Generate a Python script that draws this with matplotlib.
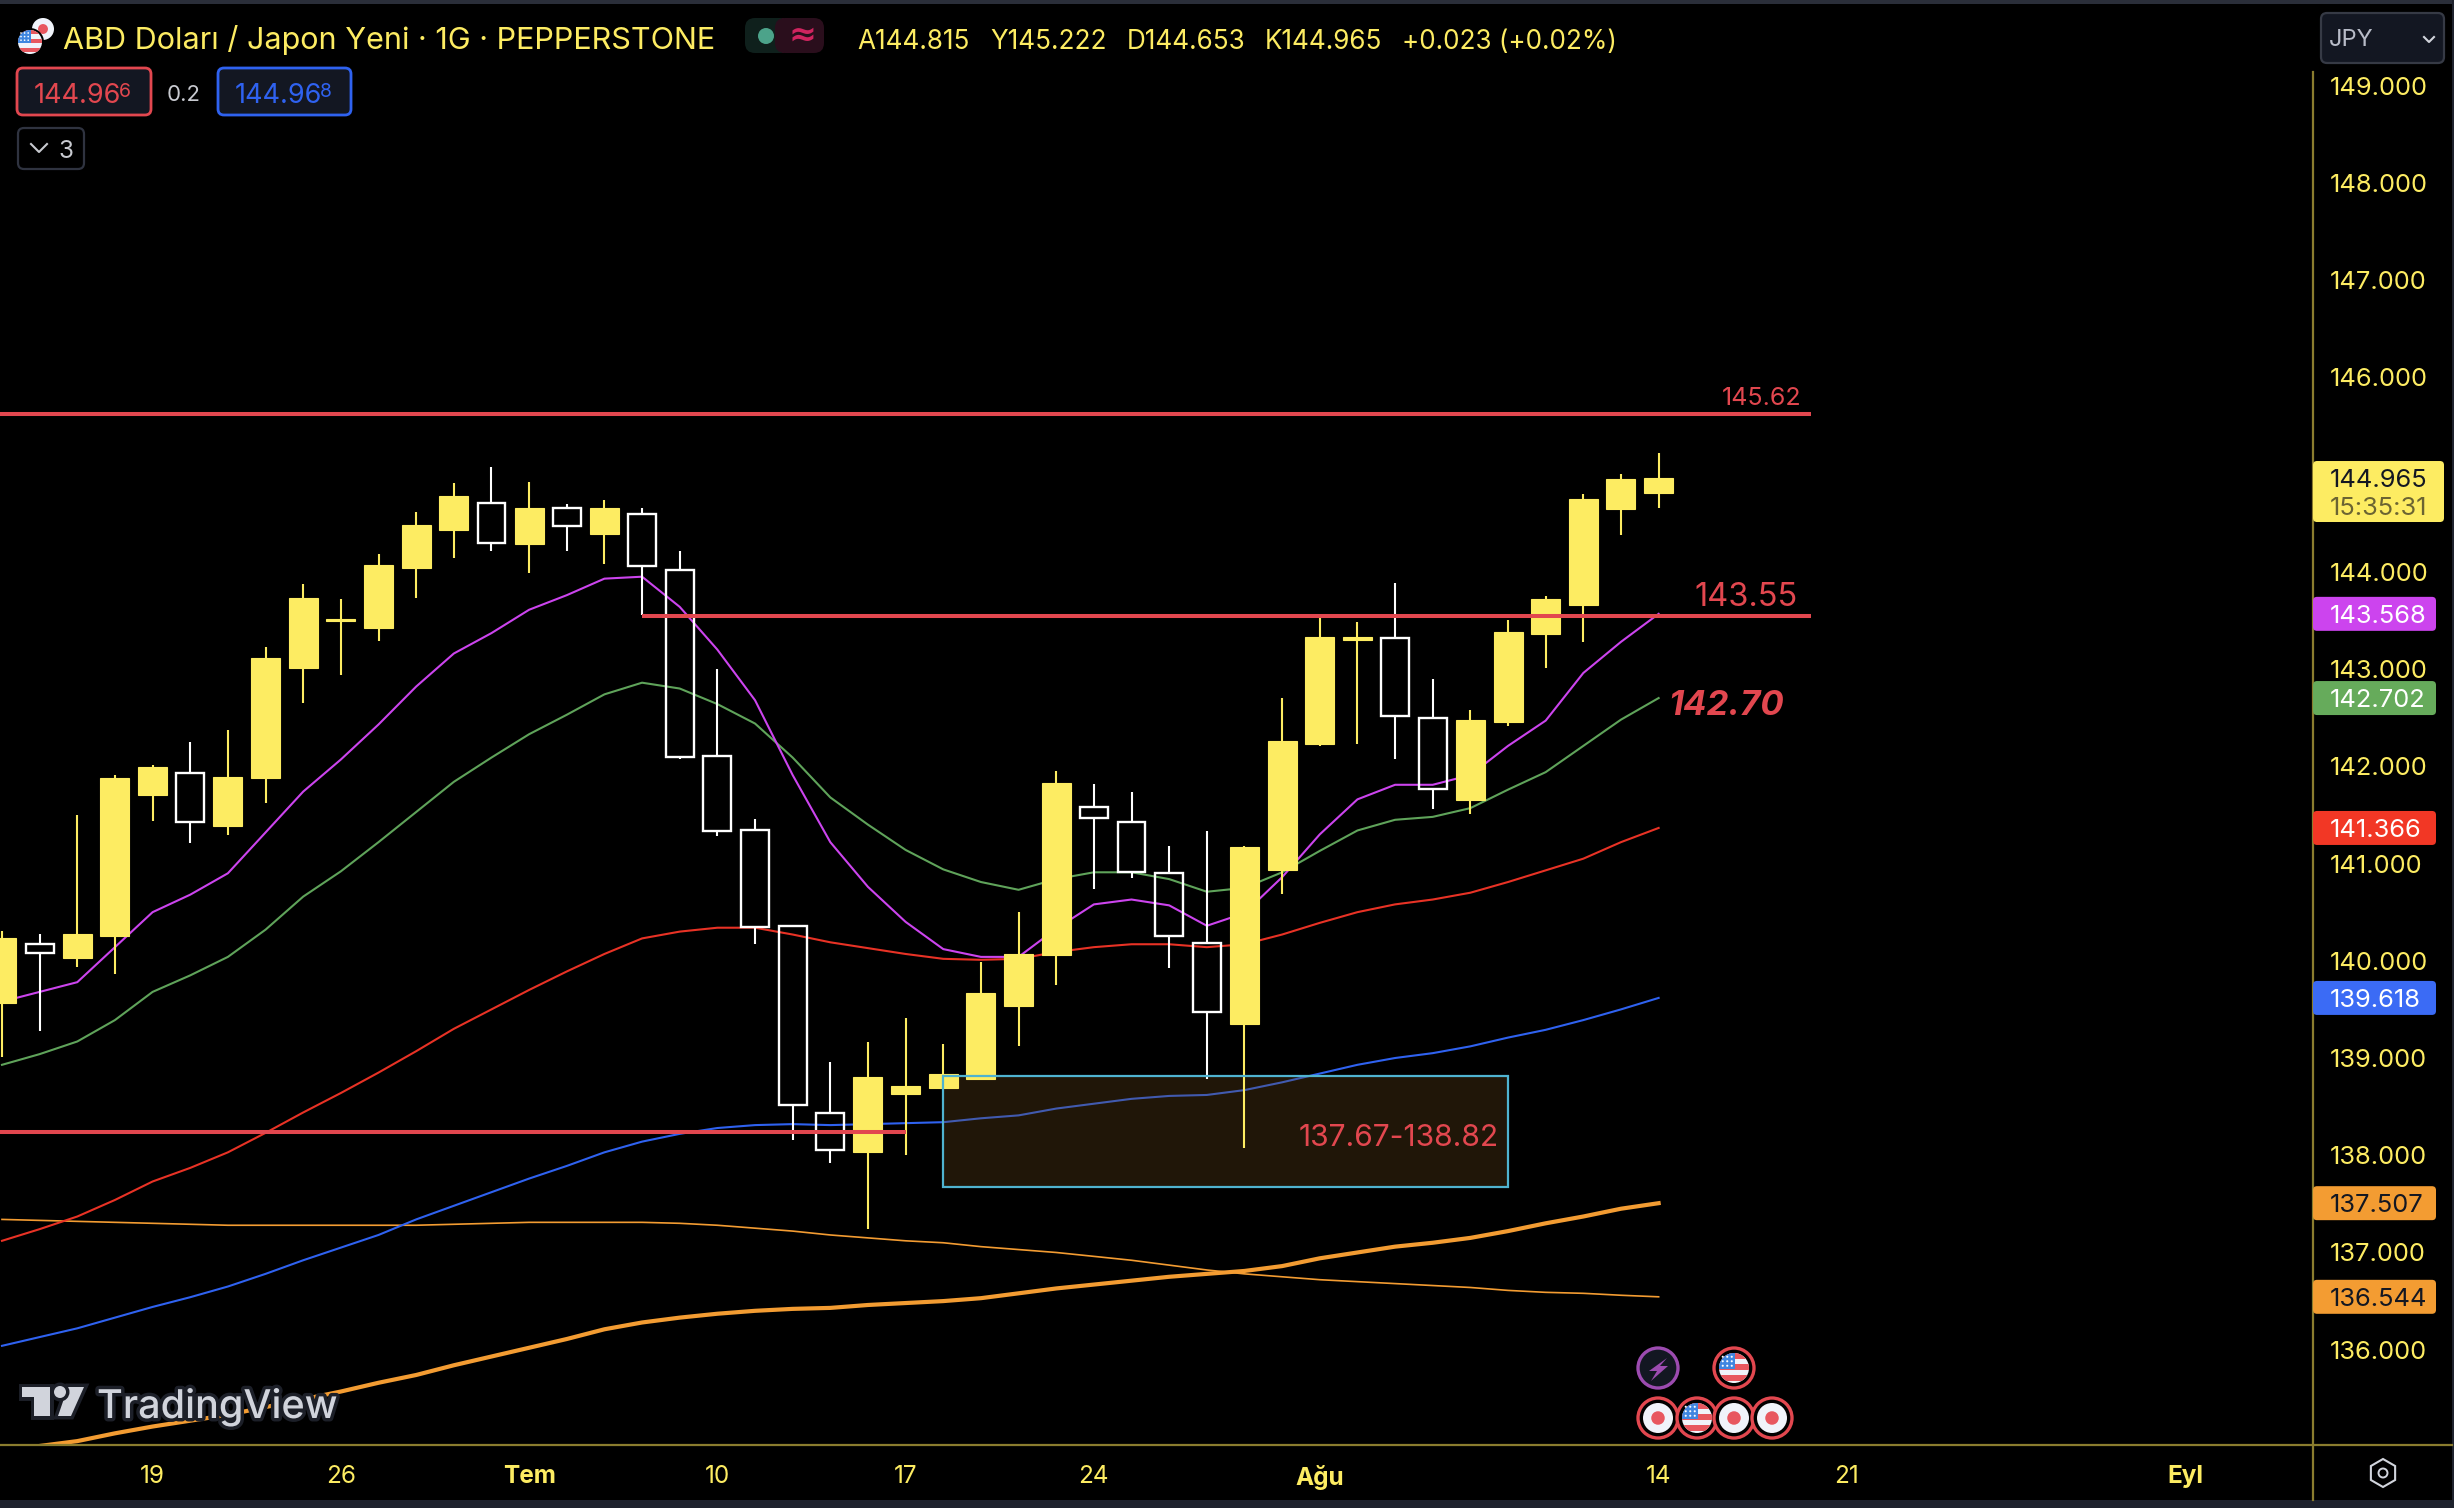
import matplotlib
matplotlib.use("Agg")
import matplotlib.pyplot as plt
import matplotlib.patheffects as pe
from matplotlib.patches import Circle, FancyBboxPatch, Polygon, Rectangle, RegularPolygon

plt.rcParams["font.family"] = ["Inter", "DejaVu Sans"]

# Daily candles, index 0 is the first bar on the left
opens = [139.57, 140.17, 140.03, 140.25, 141.70, 141.93, 141.39, 141.88, 143.01, 143.49,
         143.42, 144.04, 144.43, 144.71, 144.29, 144.66, 144.39, 144.60, 144.02, 142.11,
         141.34, 140.36, 138.43, 138.03, 138.63, 138.69, 138.78, 139.53, 140.06, 141.58,
         141.43, 140.90, 140.18, 139.35, 140.93, 142.23, 143.30, 143.32, 142.50, 141.65,
         142.46, 143.36, 143.66, 144.65, 144.815]
highs = [140.31, 140.28, 141.50, 141.91, 142.01, 142.25, 142.37, 143.23, 143.88, 143.72,
         144.18, 144.62, 144.91, 145.08, 144.92, 144.70, 144.74, 144.66, 144.21, 143.00,
         141.46, 140.37, 138.96, 139.16, 139.41, 139.14, 139.99, 140.50, 141.95, 141.82,
         141.74, 141.18, 141.33, 141.18, 142.70, 143.54, 143.48, 143.89, 142.90, 142.58,
         143.50, 143.75, 144.80, 145.01, 145.222]
lows = [139.01, 139.28, 139.94, 139.86, 141.44, 141.21, 141.29, 141.62, 142.65, 142.94,
        143.29, 143.73, 144.14, 144.21, 143.99, 144.21, 144.08, 143.56, 142.08, 141.28,
        140.17, 138.16, 137.92, 137.24, 138.00, 138.69, 138.77, 139.12, 139.75, 140.74,
        140.85, 139.93, 138.78, 138.07, 140.69, 142.21, 142.23, 142.08, 141.56, 141.51,
        142.41, 143.01, 143.28, 144.38, 144.653]
closes = [140.23, 140.08, 140.28, 141.88, 141.99, 141.43, 141.89, 143.11, 143.73, 143.52,
          144.07, 144.48, 144.78, 144.30, 144.66, 144.47, 144.66, 144.06, 142.10, 141.33,
          140.35, 138.52, 138.05, 138.80, 138.71, 138.84, 139.67, 140.07, 141.83, 141.47,
          140.91, 140.25, 139.47, 141.17, 142.26, 143.33, 143.33, 142.52, 141.77, 142.48,
          143.38, 143.72, 144.75, 144.95, 144.965]

# Moving averages
ma_magenta = [139.58, 139.68, 139.78, 140.14, 140.50, 140.68, 140.90, 141.32, 141.74, 142.07,
              142.43, 142.82, 143.16, 143.37, 143.61, 143.76, 143.93, 143.95, 143.64, 143.20,
              142.68, 141.91, 141.22, 140.76, 140.40, 140.12, 140.04, 140.04, 140.33, 140.58,
              140.63, 140.57, 140.36, 140.49, 140.86, 141.30, 141.66, 141.81, 141.81, 141.91,
              142.21, 142.47, 142.96, 143.28, 143.568]
ma_green = [138.93, 139.04, 139.17, 139.39, 139.68, 139.85, 140.04, 140.32, 140.66, 140.92,
            141.22, 141.53, 141.84, 142.09, 142.33, 142.53, 142.74, 142.86, 142.80, 142.64,
            142.44, 142.09, 141.68, 141.40, 141.14, 140.94, 140.81, 140.73, 140.84, 140.91,
            140.91, 140.84, 140.71, 140.75, 140.91, 141.13, 141.34, 141.45, 141.48, 141.57,
            141.76, 141.94, 142.21, 142.48, 142.702]
ma_red = [137.12, 137.24, 137.37, 137.54, 137.73, 137.87, 138.03, 138.23, 138.44, 138.64,
          138.85, 139.07, 139.30, 139.50, 139.70, 139.89, 140.07, 140.23, 140.30, 140.34,
          140.34, 140.27, 140.19, 140.13, 140.07, 140.02, 140.01, 140.02, 140.09, 140.14,
          140.17, 140.17, 140.14, 140.17, 140.27, 140.39, 140.50, 140.58, 140.63, 140.70,
          140.81, 140.93, 141.05, 141.22, 141.366]
ma_blue = [136.04, 136.13, 136.22, 136.33, 136.44, 136.54, 136.65, 136.78, 136.92, 137.05,
           137.18, 137.34, 137.48, 137.62, 137.76, 137.89, 138.03, 138.14, 138.22, 138.28,
           138.31, 138.32, 138.31, 138.32, 138.33, 138.34, 138.38, 138.41, 138.48, 138.53,
           138.58, 138.61, 138.62, 138.67, 138.75, 138.84, 138.93, 139.00, 139.05, 139.12,
           139.21, 139.29, 139.39, 139.50, 139.618]
ma_orange_thin = [137.34, 137.33, 137.32, 137.31, 137.30, 137.29, 137.28, 137.28, 137.28, 137.28,
                  137.28, 137.28, 137.29, 137.30, 137.31, 137.31, 137.31, 137.31, 137.30, 137.28,
                  137.25, 137.22, 137.18, 137.15, 137.12, 137.10, 137.06, 137.03, 137.00, 136.96,
                  136.92, 136.87, 136.82, 136.78, 136.75, 136.72, 136.70, 136.68, 136.66, 136.64,
                  136.61, 136.59, 136.58, 136.56, 136.544]
ma_orange_thick = [134.95, 135.01, 135.06, 135.14, 135.21, 135.27, 135.33, 135.41, 135.49, 135.57,
                   135.66, 135.74, 135.84, 135.93, 136.02, 136.11, 136.21, 136.28, 136.33, 136.37,
                   136.40, 136.42, 136.43, 136.46, 136.48, 136.50, 136.53, 136.58, 136.63, 136.67,
                   136.71, 136.75, 136.78, 136.81, 136.86, 136.94, 137.00, 137.06, 137.10, 137.15,
                   137.22, 137.30, 137.37, 137.45, 137.507]

price_ticks = [136, 137, 138, 139, 140, 141, 142, 143, 144, 146, 147, 148, 149]
date_ticks = [4, 9, 14, 19, 24, 29, 35, 44, 49, 58]
date_labels = ["19", "26", "Tem", "10", "17", "24", "Ağu", "14", "21", "Eyl"]
month_labels = ["Tem", "Ağu", "Eyl"]

YELLOW = "#fdec62"
RED = "#e2474f"
ORANGE = "#f39c32"
OLIVE = "#8a7c2e"
PANEL = "#131722"

fig = plt.figure(figsize=(24.54, 15.08), dpi=100, facecolor="black")
ax = fig.add_axes([0, 63 / 1508, 2313 / 2454, (1445 - 4) / 1508], facecolor="black")
ax.set_xlim(-0.053, 61.38)
ax.set_ylim(135.02, 149.84)
for s in ax.spines.values():
    s.set_visible(False)

# Moving average lines
xs = list(range(len(closes)))
ax.plot(xs, ma_orange_thin, color=ORANGE, lw=1.2, zorder=2)
ax.plot(xs, ma_orange_thick, color=ORANGE, lw=3, zorder=2)
ax.plot(xs, ma_blue, color="#2f62f0", lw=1.5, zorder=2)
ax.plot(xs, ma_red, color="#e83225", lw=1.5, zorder=2)
ax.plot(xs, ma_green, color="#5fa35a", lw=1.5, zorder=2)
ax.plot(xs, ma_magenta, color="#cc44ee", lw=1.5, zorder=2)

# Zone box
ax.add_patch(Rectangle((25, 137.67), 15, 1.15, facecolor="#6b491b", alpha=0.3, edgecolor="none", zorder=3))
ax.add_patch(Rectangle((25, 137.67), 15, 1.15, facecolor="none", edgecolor="#4fb3d0", lw=1.6, zorder=6))
ax.text(39.75, 138.21, "137.67-138.82", color=RED, fontsize=21.6, ha="right", va="center_baseline", zorder=7)

# Candles: yellow filled when up, white hollow when down
for i in xs:
    up = closes[i] >= opens[i]
    top = max(opens[i], closes[i])
    bot = min(opens[i], closes[i])
    c = YELLOW if up else "white"
    ax.vlines(i, top, highs[i], color=c, lw=1.5, zorder=4)
    ax.vlines(i, lows[i], bot, color=c, lw=1.5, zorder=4)
    if up:
        ax.bar(i, top - bot, bottom=bot, width=0.77, color=YELLOW, edgecolor=YELLOW, lw=0.8, zorder=5)
    else:
        ax.bar(i, top - bot, bottom=bot, width=0.74, facecolor="none", edgecolor="white", lw=1.7, zorder=5)

# Horizontal levels
ax.hlines(145.62, -0.053, 48.05, color=RED, lw=2.9, zorder=8)
ax.hlines(143.55, 17, 48.05, color=RED, lw=2.9, zorder=8)
ax.hlines(138.24, -0.053, 24, color=RED, lw=2.9, zorder=8)
ax.text(47.8, 145.81, "145.62", color=RED, fontsize=18, ha="right", va="center_baseline", zorder=8)
ax.text(47.7, 143.77, "143.55", color=RED, fontsize=23.5, ha="right", va="center_baseline", zorder=8)
ax.text(47.33, 142.66, "142.70", color=RED, fontsize=25, fontweight="bold", style="italic",
        ha="right", va="center_baseline", zorder=8)

# Axes ticks
ax.yaxis.tick_right()
ax.set_yticks(price_ticks)
ax.set_yticklabels([f"{p}.000" for p in price_ticks], color=YELLOW, fontsize=18.3)
ax.tick_params(axis="y", length=0, pad=12)
ax.set_xticks(date_ticks)
ax.set_xticklabels(date_labels, color=YELLOW, fontsize=17.5)
ax.tick_params(axis="x", length=0, pad=14.5)
for t in ax.get_xticklabels():
    if t.get_text() in month_labels:
        t.set_fontweight("bold")

# Overlay in pixel coordinates for the interface parts
ui = fig.add_axes([0, 0, 1, 1], facecolor="none")
ui.set_xlim(0, 2454)
ui.set_ylim(1508, 0)
ui.axis("off")


def to_py(value):
    disp = ax.transData.transform((0, value))
    return ui.transData.inverted().transform(disp)[1]


def box(x0, y0, x1, y1, fc, ec="none", lw=0, r=5, z=10):
    ui.add_patch(FancyBboxPatch((x0 + r, y0 + r), x1 - x0 - 2 * r, y1 - y0 - 2 * r,
                                boxstyle=f"round,pad={r},rounding_size={r}", fc=fc, ec=ec, lw=lw, zorder=z))


def flag(cx, cy, r, z):
    clip = Circle((cx, cy), r, transform=ui.transData)
    ui.add_patch(Circle((cx, cy), r, fc="#f0f3fa", ec="none", zorder=z))
    for k in range(3):
        sy = cy - r + (2 * k) * (2 * r / 5.4)
        st = Rectangle((cx - r, sy), 2 * r, 2 * r / 5.4, fc="#e8575f", ec="none", zorder=z + 0.1)
        ui.add_patch(st)
        st.set_clip_path(clip)
    can = Rectangle((cx - r, cy - r), r * 1.05, r * 1.05, fc="#3f86e0", ec="none", zorder=z + 0.2)
    ui.add_patch(can)
    can.set_clip_path(clip)
    for a in (0.25, 0.55, 0.85):
        for b in (0.25, 0.55, 0.85):
            ui.add_patch(Circle((cx - r + a * r, cy - r + b * r), r * 0.07, fc="white", ec="none", zorder=z + 0.3))


def japan(cx, cy, r, z):
    ui.add_patch(Circle((cx, cy), r, fc="#f0f3fa", ec="none", zorder=z))
    ui.add_patch(Circle((cx, cy), r * 0.45, fc="#e8575f", ec="none", zorder=z + 0.1))


def event(cx, cy, kind, z):
    ui.add_patch(Circle((cx, cy), 20, fc="black", ec=RED, lw=2.4, zorder=z))
    if kind == "us":
        flag(cx, cy, 15, z + 0.1)
    else:
        japan(cx, cy, 15, z + 0.1)


# Frame strips and axis lines
ui.add_patch(Rectangle((0, 0), 2454, 4, fc="#2a2e39", ec="none", zorder=9))
ui.add_patch(Rectangle((0, 1500), 2454, 8, fc="#1e222d", ec="none", zorder=9))
ui.add_patch(Rectangle((2452, 0), 2, 1508, fc="#1e222d", ec="none", zorder=9))
ui.plot([0, 2452], [1445, 1445], color=OLIVE, lw=1.6, zorder=9)
ui.plot([2313, 2313], [72, 1500], color=OLIVE, lw=1.6, zorder=9)

# Price tags on the scale
tags = [(143.568, "#cc44ee", "white"), (142.702, "#66ab5b", "white"), (141.366, "#f23725", "white"),
        (139.618, "#3b6bf5", "white"), (137.507, ORANGE, "#131722"), (136.544, ORANGE, "#131722")]
for val, col, tc in tags:
    y = to_py(val)
    box(2313, y - 17, 2436, y + 17, col, r=4)
    ui.text(2330, y, f"{val:.3f}", color=tc, fontsize=18.3, va="center_baseline", ha="left", zorder=11)
y = to_py(closes[-1])
box(2313, y - 17, 2444, y + 44, YELLOW, r=4)
ui.text(2330, y, f"{closes[-1]:.3f}", color="#131722", fontsize=18.3, va="center_baseline", ha="left", zorder=11)
ui.text(2330, y + 28, "15:35:31", color="#6b6432", fontsize=18.3, va="center_baseline", ha="left", zorder=11)

# Header
japan(43, 29, 11, 12)
ui.add_patch(Circle((30, 42), 14, fc="black", ec="none", zorder=12.5))
flag(30, 42, 12, 13)
ui.text(63, 37, "ABD Doları / Japon Yeni · 1G · PEPPERSTONE", color=YELLOW, fontsize=22, va="center_baseline", zorder=11)
box(745, 18, 790, 53, "#0f201c", r=10)
box(775, 18, 824, 53, "#2a0e1c", r=10)
ui.add_patch(Rectangle((782, 18), 2, 35, fc="#2a0e1c", ec="none", zorder=10))
ui.add_patch(Circle((766, 36), 8, fc="#4ca38a", ec="none", zorder=11))
ui.text(802, 35, "≈", color="#d0245f", fontsize=24, fontweight="bold", ha="center", va="center",
        family=["DejaVu Sans"], zorder=11)
for x, s in [(857, "A144.815"), (990, "Y145.222"), (1127, "D144.653"), (1265, "K144.965"),
             (1402, "+0.023 (+0.02%)")]:
    ui.text(x, 39, s, color=YELLOW, fontsize=18.8, va="center_baseline", zorder=11)

# Bid and ask boxes
box(17, 68, 151, 115, PANEL, ec=RED, lw=2, r=6)
ui.text(34, 93, "144.96", color=RED, fontsize=19.5, va="center_baseline", zorder=11)
ui.text(119, 90, "6", color=RED, fontsize=14, va="center_baseline", zorder=11)
ui.text(167, 93, "0.2", color="#c8cad0", fontsize=16, va="center_baseline", zorder=11)
box(218, 68, 351, 115, PANEL, ec="#2f62f0", lw=2, r=6)
ui.text(235, 93, "144.96", color="#2f62f0", fontsize=19.5, va="center_baseline", zorder=11)
ui.text(320, 90, "8", color="#2f62f0", fontsize=14, va="center_baseline", zorder=11)

# Collapse button
box(18, 128, 84, 169, "black", ec="#2f3340", lw=1.6, r=6)
ui.plot([31, 39, 47], [144, 152, 144], color="#c8cad0", lw=1.5, zorder=11)
ui.text(59, 149, "3", color="#c8cad0", fontsize=17.5, va="center_baseline", zorder=11)

# Currency button
box(2321, 13, 2444, 63, PANEL, ec="#363a45", lw=1.6, r=6)
ui.text(2329, 38, "JPY", color="#b8bcc8", fontsize=17, va="center_baseline", zorder=11)
ui.plot([2424, 2429, 2434], [37, 42, 37], color="#d1d4dc", lw=1.5, zorder=11)

# Settings icon
ui.add_patch(RegularPolygon((2383, 1473), 6, radius=14, fc="none", ec="#d1d4dc", lw=1.5, zorder=11))
ui.add_patch(Circle((2383, 1473), 4.5, fc="none", ec="#d1d4dc", lw=1.4, zorder=11))

# Watermark
halo = [pe.withStroke(linewidth=5, foreground="#1c1f28")]
ui.text(97, 1403, "TradingView", color="#d1d4dc", fontsize=28.5, fontweight="medium", va="center_baseline",
        zorder=12, path_effects=halo)
for p in [Polygon([(22, 1387), (50, 1387), (50, 1416), (34, 1416), (34, 1397), (22, 1397)]),
          Polygon([(84, 1387), (68, 1387), (58, 1416), (71, 1416)]),
          Circle((60, 1392), 6)]:
    p.set(fc="#d1d4dc", ec="none", zorder=12, path_effects=halo)
    ui.add_patch(p)

# Event markers
ui.add_patch(Circle((1658, 1368), 20, fc=PANEL, ec="#9c4bb0", lw=2.4, zorder=11))
ui.add_patch(Polygon([(1667, 1358), (1649, 1371), (1657, 1371), (1651, 1381), (1668, 1366), (1660, 1366)],
                     fc="#9c4bb0", ec="none", zorder=12))
event(1734, 1368, "us", 11)
event(1658, 1418, "jp", 11)
event(1697, 1418, "us", 12)
event(1734, 1418, "jp", 13)
event(1772, 1418, "jp", 14)

fig.savefig("out.png", dpi=100, facecolor="black")
